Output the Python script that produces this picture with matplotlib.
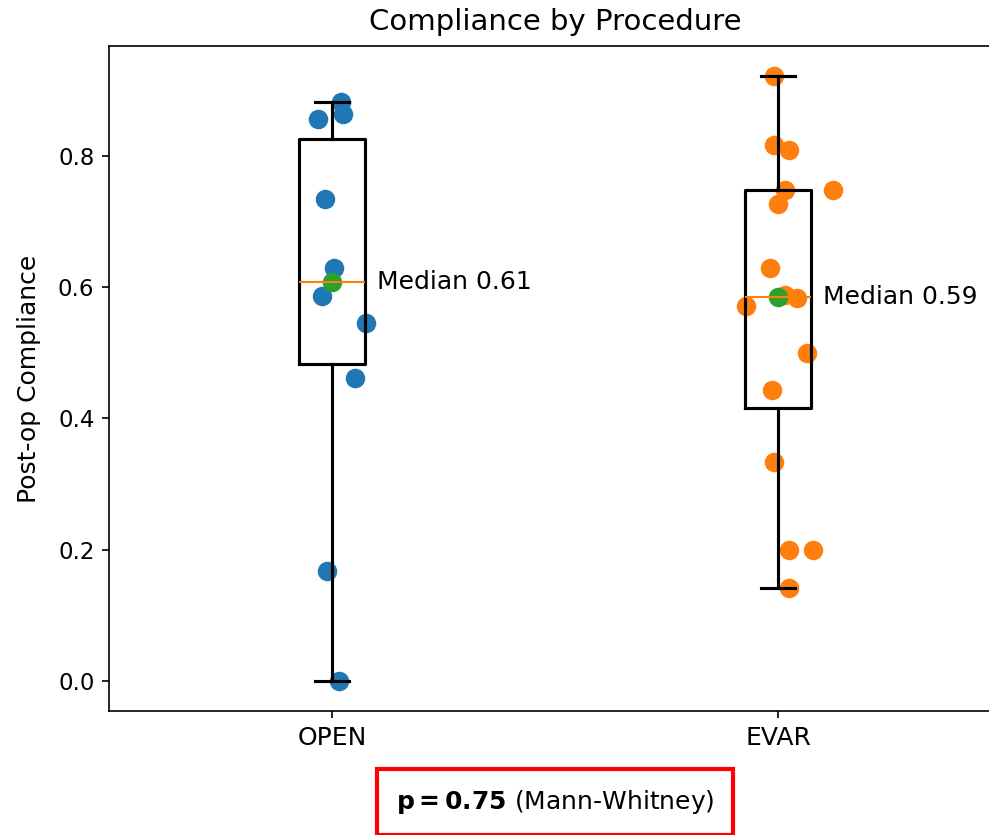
import numpy as np
import matplotlib
matplotlib.use('Agg')
import matplotlib.pyplot as plt

# data
groups = ['OPEN', 'EVAR']
open_vals = [0.882, 0.864, 0.857, 0.734, 0.630, 0.587, 0.545, 0.462, 0.167, 0.0]
open_jitter = [0.020, 0.025, -0.031, -0.016, 0.004, -0.022, 0.076, 0.052, -0.011, 0.016]
evar_vals = [0.922, 0.817, 0.809, 0.749, 0.749, 0.727, 0.629, 0.588, 0.584, 0.571,
             0.500, 0.444, 0.333, 0.199, 0.199, 0.142]
evar_jitter = [-0.009, -0.009, 0.025, 0.016, 0.123, 0.0, -0.018, 0.016, 0.043, -0.072,
               0.065, -0.013, -0.009, 0.025, 0.078, 0.025]
p_value = 0.75

data = [open_vals, evar_vals]
jitters = [open_jitter, evar_jitter]

fig = plt.figure(figsize=(989 / 150, 835 / 150), dpi=150)
# axes runs past the right edge, as in the reference
ax = fig.add_axes([109 / 989, 124 / 835, 892 / 989, 665 / 835])

lw = dict(linewidth=1.5)
ax.boxplot(data, positions=[1, 2], widths=0.15,
           boxprops=lw, whiskerprops=lw, capprops=lw)

# jittered points
for i, (vals, jit) in enumerate(zip(data, jitters)):
    ax.scatter(np.array(jit) + i + 1, vals, s=70)

# medians
medians = [np.median(v) for v in data]
ax.scatter([1, 2], medians, s=70)
for i, m in enumerate(medians):
    ax.text(i + 1 + 0.1, m, f'Median {m:.2f}', va='center', fontsize=12)

ax.set_xlim(0.5, 2.5)
ax.set_xticks([1, 2])
ax.set_xticklabels(groups, fontsize=12)
ax.tick_params(axis='y', labelsize=11)
ax.set_ylabel('Post-op Compliance', fontsize=12, labelpad=8)
ax.set_title('Compliance by Procedure', fontsize=14, pad=7.5)

ax.text(0.5, -0.137, r'$\mathbf{p = %.2f}$ (Mann-Whitney)' % p_value,
        transform=ax.transAxes, ha='center', va='center', fontsize=12,
        bbox=dict(boxstyle='square,pad=0.75', fc='white', ec='red', lw=2))

fig.savefig('out.png', dpi=150)
